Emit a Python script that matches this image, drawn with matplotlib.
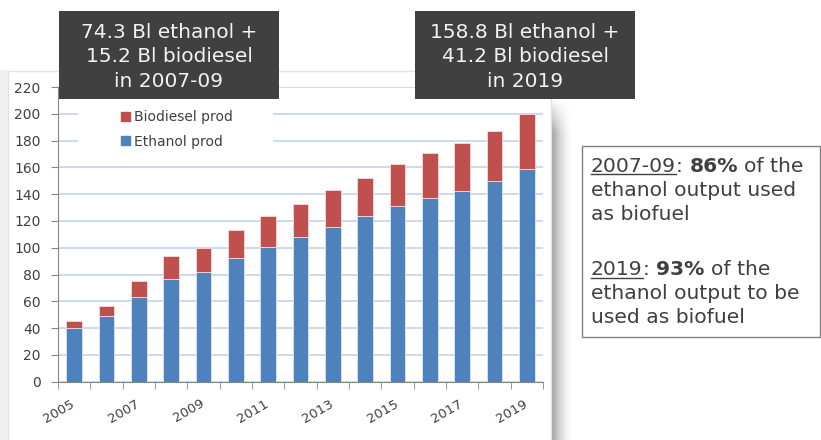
import numpy as np
import matplotlib
matplotlib.use('Agg')
import matplotlib.pyplot as plt
from matplotlib.patches import Rectangle, Patch
import matplotlib.transforms as mtransforms

plt.rcParams['font.family'] = ['DejaVu Sans']

# data (billion litres)
years = ['2005', '2006', '2007', '2008', '2009', '2010', '2011', '2012',
         '2013', '2014', '2015', '2016', '2017', '2018', '2019']
ethanol = [40, 49, 63, 77, 82, 92.3, 100.8, 108, 115.5, 123.7, 131.4, 137, 142, 150, 158.8]
biodiesel = [5, 7.5, 12, 16.5, 18, 20.7, 22.6, 25, 27.5, 28.7, 31, 34, 36, 37.5, 41.2]
yticks = [0, 20, 40, 60, 80, 100, 120, 140, 160, 180, 200, 220]

box_left = ['74.3 Bl ethanol +', '15.2 Bl biodiesel', 'in 2007-09']
box_right = ['158.8 Bl ethanol +', '41.2 Bl biodiesel', 'in 2019']
note_lines = [
    [('2007-09', 'normal', True), (':', 'normal', False), (' ', None, False),
     ('86%', 'bold', False), (' ', None, False), ('of the', 'normal', False)],
    [('ethanol output used', 'normal', False)],
    [('as biofuel', 'normal', False)],
    [('2019', 'normal', True), (':', 'normal', False), (' ', None, False),
     ('93%', 'bold', False), (' ', None, False), ('of the', 'normal', False)],
    [('ethanol output to be', 'normal', False)],
    [('used as biofuel', 'normal', False)],
]
note_baselines = [171.5, 196, 220, 275, 299, 323]

W, H = 821, 440
TXT = '#404040'
AXC = '#868686'
fig = plt.figure(figsize=(W / 100, H / 100), dpi=100)
fig.patch.set_facecolor('white')

# background panel with shadow
bg = fig.add_axes([0, 0, 1, 1], zorder=-5)
bg.axis('off')
bg.add_patch(Rectangle((0, 70), 8, 370, color='#efefef', lw=0))
bg.add_patch(Rectangle((8, 71), 543, 372, facecolor='white', edgecolor='#e2e2e2', lw=1))
gx = np.linspace(0, 1, 40)
gy = np.linspace(0, 1, 80)
shade = 1 - 0.4 * ((1 - gx) ** 1.8)[None, :] * np.clip(gy * 10, 0, 1)[:, None]
bg.imshow(shade, cmap='gray', vmin=0, vmax=1, extent=(551, 574, 440, 97),
          aspect='auto', interpolation='bilinear')
bg.set_xlim(0, W)
bg.set_ylim(H, 0)

# main chart
ax = fig.add_axes([58 / W, 1 - 381.7 / H, 485 / W, 294.7 / H])
x = np.arange(len(years))
ax.bar(x, ethanol, width=0.48, color='#4f81bd', edgecolor='#dfe7f2', linewidth=0.6,
       zorder=2, label='Ethanol prod')
ax.bar(x, biodiesel, bottom=ethanol, width=0.48, color='#c0504d', edgecolor='#f2dcdb',
       linewidth=0.6, zorder=2, label='Biodiesel prod')
ax.set_xlim(-0.5, len(years) - 0.5)
ax.set_ylim(0, 220)
ax.set_yticks(yticks)
ax.yaxis.grid(True, color='#c9d8ee', lw=1.3)
ax.set_axisbelow(True)
for s in ['top', 'right']:
    ax.spines[s].set_visible(False)
for s in ['left', 'bottom']:
    ax.spines[s].set_color(AXC)
ax.set_xticks(x[::2])
ax.set_xticklabels(years[::2], rotation=30, ha='right', fontsize=9.5, color=TXT)
ax.set_xticks(np.arange(-0.5, len(years), 1), minor=True)
ax.tick_params(axis='x', which='major', length=0, pad=11)
ax.tick_params(axis='x', which='minor', length=5, color=AXC)
ax.tick_params(axis='y', length=5, color=AXC, labelsize=10, labelcolor=TXT, pad=7.5)
shift = mtransforms.ScaledTranslation(0.03, 0, fig.dpi_scale_trans)
for lbl in ax.get_xticklabels():
    lbl.set_transform(lbl.get_transform() + shift)

# legend on a white patch covering the gridlines
ax.add_patch(Rectangle((0.041, 0.779), 0.402, 0.193, transform=ax.transAxes,
                       facecolor='white', edgecolor='none', zorder=1))
handles = [Patch(color='#c0504d', label='Biodiesel prod'),
           Patch(color='#4f81bd', label='Ethanol prod')]
leg = ax.legend(handles=handles, loc='upper left', bbox_to_anchor=(0.116, 0.945),
                frameon=False, fontsize=10, handlelength=0.6, handleheight=0.6,
                handletextpad=0.35, labelspacing=0.75, borderpad=0)
for t in leg.get_texts():
    t.set_color(TXT)

# overlay: dark callouts and note box
ov = fig.add_axes([0, 0, 1, 1], zorder=5)
ov.set_xlim(0, W)
ov.set_ylim(H, 0)
ov.axis('off')
for x0, lines in [(59, box_left), (415, box_right)]:
    ov.add_patch(Rectangle((x0, 11), 220, 88, color='#404040', lw=0))
    for yb, line in zip([37.5, 62.5, 87], lines):
        ov.text(x0 + 110, yb, line, ha='center', va='baseline', fontsize=14.5, color='#f2f2f2')

ov.add_patch(Rectangle((582, 146), 237.5, 191, fill=False, edgecolor='#808080', lw=1))
renderer = fig.canvas.get_renderer()
fs = 14.6
space = fs * 100 / 72 * 0.318
for yb, parts in zip(note_baselines, note_lines):
    xp = 591
    for txt, weight, uline in parts:
        if weight is None:
            xp += space
            continue
        t = ov.text(xp, yb, txt, ha='left', va='baseline', fontsize=fs,
                    fontweight=weight, color=TXT)
        w = t.get_window_extent(renderer=renderer).width
        if uline:
            ov.plot([xp, xp + w], [yb + 3, yb + 3], color=TXT, lw=1)
        xp += w

fig.savefig('out.png', dpi=100)
